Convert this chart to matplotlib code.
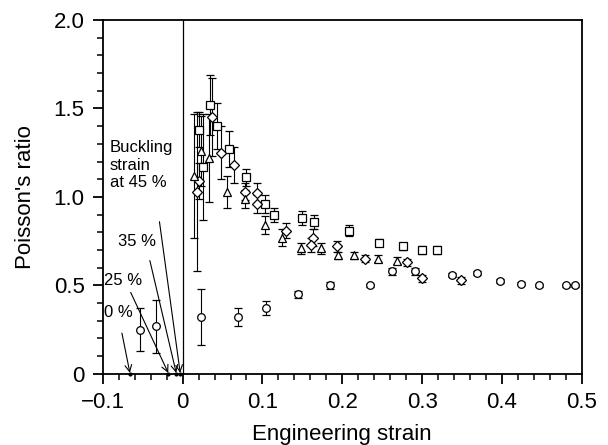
import matplotlib
matplotlib.use('Agg')
import matplotlib.pyplot as plt
from matplotlib.ticker import MultipleLocator

plt.rcParams['font.family'] = ['Liberation Sans', 'DejaVu Sans']

# circles (lower branch + long tail)
circ_x = [-0.053, -0.033, 0.023, 0.070, 0.104, 0.145, 0.185, 0.235, 0.262, 0.291,
          0.337, 0.369, 0.397, 0.424, 0.446, 0.480, 0.492]
circ_y = [0.25, 0.27, 0.32, 0.32, 0.37, 0.45, 0.50, 0.50, 0.58, 0.58,
          0.56, 0.57, 0.525, 0.51, 0.50, 0.50, 0.50]
circ_e = [0.12, 0.15, 0.16, 0.05, 0.04, 0.02, 0.02, 0.01, 0.02, 0.02,
          0.01, 0.01, 0.01, 0.01, 0.01, 0.01, 0.01]

# squares
sq_x = [0.020, 0.025, 0.034, 0.043, 0.058, 0.079, 0.103, 0.114, 0.150, 0.165,
        0.209, 0.246, 0.276, 0.300, 0.319]
sq_y = [1.38, 1.17, 1.52, 1.40, 1.27, 1.11, 0.96, 0.90, 0.88, 0.86,
        0.81, 0.74, 0.72, 0.70, 0.70]
sq_e = [0.10, 0.30, 0.17, 0.13, 0.10, 0.05, 0.05, 0.04, 0.04, 0.04,
        0.03, 0.02, 0.02, 0.02, 0.02]

# diamonds
dia_x = [0.018, 0.020, 0.037, 0.048, 0.064, 0.078, 0.093, 0.093, 0.129, 0.163,
         0.161, 0.193, 0.229, 0.281, 0.300, 0.349]
dia_y = [1.03, 1.09, 1.45, 1.25, 1.18, 1.03, 1.02, 0.96, 0.81, 0.77,
         0.73, 0.72, 0.65, 0.63, 0.54, 0.53]
dia_e = [0.45, 0.10, 0.22, 0.15, 0.10, 0.05, 0.06, 0.05, 0.04, 0.05,
         0.04, 0.03, 0.02, 0.02, 0.02, 0.02]

# triangles
tri_x = [0.014, 0.023, 0.033, 0.055, 0.078, 0.103, 0.125, 0.148, 0.173, 0.194,
         0.215, 0.245, 0.269]
tri_y = [1.12, 1.26, 1.22, 1.03, 0.99, 0.84, 0.77, 0.71, 0.71, 0.67,
         0.67, 0.65, 0.64]
tri_e = [0.35, 0.20, 0.25, 0.09, 0.05, 0.05, 0.05, 0.03, 0.03, 0.02,
         0.02, 0.02, 0.02]

# buckling strain annotations: label, label position, arrow start, arrow target
buck_labels = ['Buckling\nstrain\nat 45 %', '35 %', '25 %', '0 %']
buck_text_xy = [(-0.091, 1.32), (-0.081, 0.79), (-0.099, 0.57), (-0.099, 0.39)]
buck_arrow_start = [(-0.029, 0.86), (-0.041, 0.64), (-0.065, 0.46), (-0.076, 0.23)]
buck_target_x = [-0.003, -0.008, -0.018, -0.066]

fig = plt.figure(figsize=(6.08, 4.45), dpi=100)
ax = fig.add_axes([0.169, 0.160, 0.788, 0.795])

ebkw = dict(linestyle='none', color='black', ecolor='black', elinewidth=0.8,
            capsize=3, capthick=0.8, markerfacecolor='white',
            markeredgecolor='black', markeredgewidth=0.9, markersize=5.5)
ax.errorbar(circ_x, circ_y, yerr=circ_e, marker='o', **ebkw)
ax.errorbar(sq_x, sq_y, yerr=sq_e, marker='s', **ebkw)
ax.errorbar(dia_x, dia_y, yerr=dia_e, marker='D', **{**ebkw, 'markersize': 5})
ax.errorbar(tri_x, tri_y, yerr=tri_e, marker='^', **ebkw)

ax.axvline(0, color='black', linewidth=0.9)

for lab, txy, sxy, tx in zip(buck_labels, buck_text_xy, buck_arrow_start, buck_target_x):
    ax.text(txy[0], txy[1], lab, fontsize=12, ha='left', va='top', linespacing=1.2)
    ax.annotate('', xy=(tx, 0.005), xytext=sxy,
                arrowprops=dict(arrowstyle='->', color='black', lw=0.8,
                                mutation_scale=12, shrinkA=0, shrinkB=0))
    ax.plot([tx], [0.0], marker='.', color='black', markersize=4, clip_on=False)

ax.set_xlim(-0.1, 0.5)
ax.set_ylim(0, 2.0)
ax.xaxis.set_minor_locator(MultipleLocator(0.02))
ax.yaxis.set_minor_locator(MultipleLocator(0.1))
ax.set_xticks([-0.1, 0, 0.1, 0.2, 0.3, 0.4, 0.5])
ax.set_xticklabels(['\u22120.1', '0', '0.1', '0.2', '0.3', '0.4', '0.5'])
ax.set_yticks([0, 0.5, 1.0, 1.5, 2.0])
ax.set_yticklabels(['0', '0.5', '1.0', '1.5', '2.0'])
ax.tick_params(which='major', direction='out', length=7, width=1.3, labelsize=16, pad=6)
ax.tick_params(which='minor', direction='out', length=4, width=1.1)
for s in ax.spines.values():
    s.set_linewidth(1.3)

ax.set_xlabel('Engineering strain', fontsize=16, labelpad=8)
ax.set_ylabel("Poisson's ratio", fontsize=16, labelpad=13)

fig.savefig('out.png', dpi=100)
